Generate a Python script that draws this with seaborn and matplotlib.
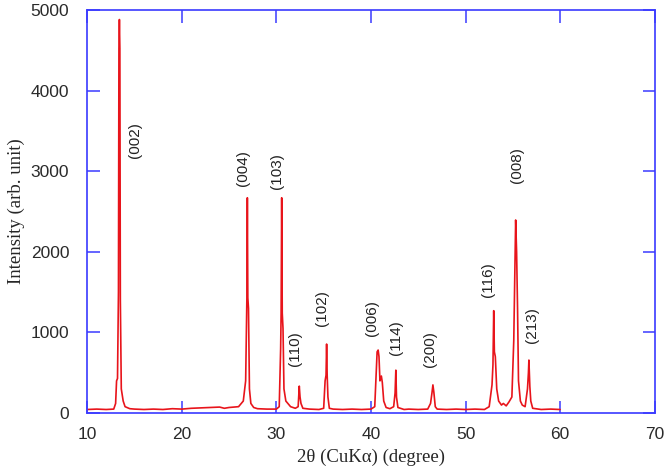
import matplotlib
matplotlib.use("Agg")
import matplotlib.pyplot as plt
import seaborn as sns
import pandas as pd

# === XRD pattern (2theta, intensity) ===
two_theta = [
    10.0, 11.0, 12.0, 12.8, 13.0, 13.1, 13.2, 13.3, 13.35, 13.4, 13.45, 13.5, 13.6, 13.8, 14.0, 14.5,
    15.0, 16.0, 17.0, 18.0, 19.0, 20.0, 21.0, 22.0, 23.0, 24.0, 24.5, 25.0, 26.0, 26.5, 26.75,
    26.88, 26.93, 26.98, 27.05, 27.15, 27.3, 27.6, 28.0, 29.0, 30.0, 30.3, 30.45, 30.5, 30.56,
    30.62, 30.7, 30.8, 31.0, 31.5, 32.0, 32.3, 32.42, 32.5, 32.6, 32.8, 33.5, 34.5, 35.0, 35.15,
    35.25, 35.31, 35.37, 35.45, 35.6, 36.0, 37.0, 38.0, 39.0, 40.0, 40.4, 40.55, 40.65, 40.76,
    40.85, 40.95, 41.1, 41.2, 41.35, 41.6, 42.0, 42.4, 42.55, 42.63, 42.7, 42.85, 43.5, 44.0,
    45.0, 46.0, 46.3, 46.45, 46.55, 46.65, 46.8, 47.0, 48.0, 49.0, 50.0, 51.0, 52.0, 52.5, 52.8,
    52.9, 52.98, 53.05, 53.15, 53.3, 53.5, 53.8, 54.0, 54.3, 54.6, 54.9, 55.1, 55.2, 55.3, 55.4,
    55.5, 55.6, 55.8, 56.0, 56.3, 56.55, 56.65, 56.7, 56.8, 56.9, 57.1, 58.0, 59.0, 60.0,
]
intensity = [
    45, 50, 45, 50, 120, 400, 430, 1500, 4520, 4880, 4520, 1400, 300, 150, 80, 55,
    50, 45, 50, 45, 55, 50, 60, 65, 70, 75, 60, 70, 80, 150, 400,
    1430, 2670, 1430, 1300, 300, 120, 70, 55, 50, 50, 80, 800, 1240, 2670,
    1240, 1050, 300, 150, 80, 60, 80, 335, 200, 120, 60, 50, 45, 60, 400,
    470, 856, 470, 200, 60, 50, 45, 50, 45, 50, 80, 500, 760, 782,
    700, 400, 460, 380, 150, 70, 55, 80, 250, 533, 200, 70, 45, 50,
    45, 50, 120, 250, 350, 260, 80, 50, 45, 50, 45, 50, 45, 80, 350,
    600, 1270, 760, 700, 300, 150, 100, 120, 90, 140, 200, 900, 1650, 2395, 2000,
    1300, 400, 150, 100, 80, 300, 500, 658, 330, 150, 60, 45, 50, 45,
]

# === Peak index labels ===
hkl_labels = ["(002)", "(004)", "(103)", "(110)", "(102)", "(006)", "(114)", "(200)", "(116)", "(008)", "(213)"]
label_x = [15.1, 26.5, 30.1, 32.0, 34.8, 40.1, 42.7, 46.2, 52.4, 55.4, 57.0]
label_y = [3390, 3040, 3000, 800, 1300, 1180, 940, 800, 1660, 3080, 1090]

df = pd.DataFrame({"two_theta": two_theta, "intensity": intensity})

sns.set_style("ticks")
blue = "#3a3aff"

fig = plt.figure(figsize=(6.66, 4.70), dpi=100)
ax = fig.add_axes([0.131, 0.121, 0.852, 0.858])

sns.lineplot(data=df, x="two_theta", y="intensity", estimator=None, sort=False,
             color="#e8141b", linewidth=1.2, ax=ax)

for lab, lx, ly in zip(hkl_labels, label_x, label_y):
    ax.text(lx, ly, lab, rotation=90, ha="center", va="center",
            fontsize=11, color="#222222", family="Liberation Sans")

ax.set_xlim(10, 70)
ax.set_ylim(0, 5000)
ax.set_xticks([10, 20, 30, 40, 50, 60, 70])
ax.set_yticks([0, 1000, 2000, 3000, 4000, 5000])

for s in ax.spines.values():
    s.set_color(blue)
    s.set_linewidth(1.2)
ax.tick_params(direction="in", length=9, width=1.1, color=blue, top=True, right=True,
               labelsize=12.5, labelcolor="#2a2a2a")
ax.tick_params(axis="y", pad=13)
ax.tick_params(axis="x", pad=10)
for t in ax.get_xticklabels() + ax.get_yticklabels():
    t.set_family("Liberation Sans")

ax.set_xlabel("2θ (CuKα) (degree)", family="Liberation Serif", fontsize=13.5, labelpad=5)
ax.set_ylabel("Intensity (arb. unit)", family="Liberation Serif", fontsize=13.5, labelpad=4)

fig.savefig("out.png", dpi=100)
